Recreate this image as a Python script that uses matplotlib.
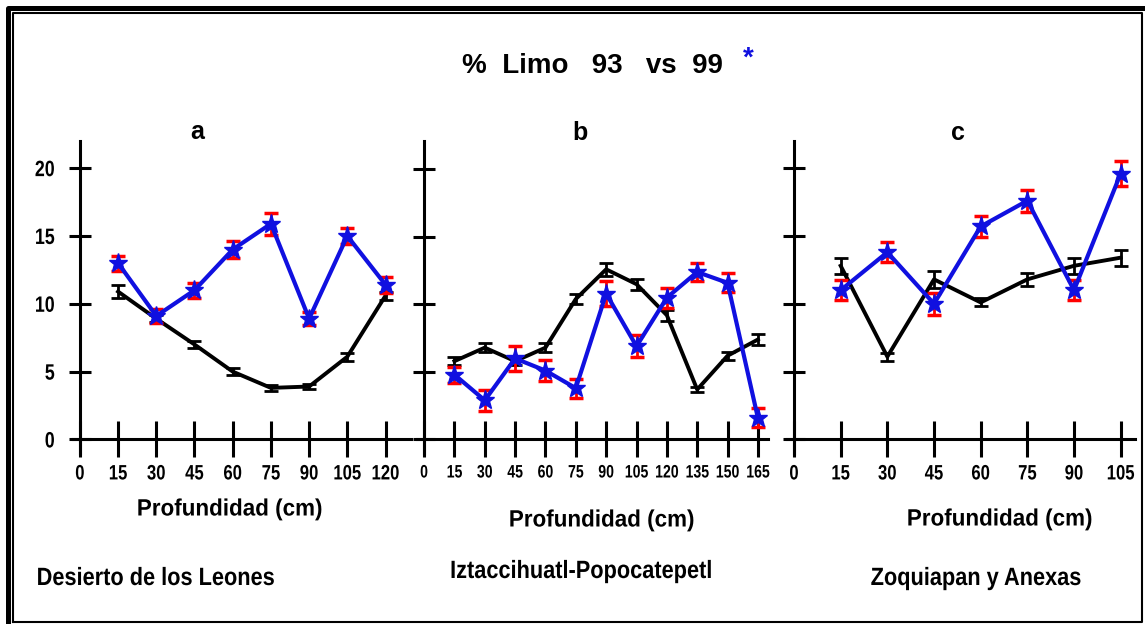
import matplotlib
matplotlib.use('Agg')
import matplotlib.pyplot as plt
from matplotlib.lines import Line2D
from matplotlib.patheffects import AbstractPathEffect
from matplotlib.transforms import Affine2D

plt.rcParams['font.family'] = ['Liberation Sans', 'DejaVu Sans']

# Panel a - Desierto de los Leones
depth_a = [15, 30, 45, 60, 75, 90, 105, 120]
limo93_a = [10.9, 8.9, 7.0, 5.0, 3.8, 3.9, 6.1, 10.6]
err93_a = [0.5, 0.25, 0.25, 0.25, 0.2, 0.2, 0.3, 0.3]
limo99_a = [13.0, 9.1, 11.0, 14.0, 15.9, 8.9, 15.0, 11.4]
err99_a = [0.55, 0.5, 0.55, 0.6, 0.8, 0.5, 0.6, 0.6]
xticks_a = [0, 15, 30, 45, 60, 75, 90, 105, 120]

# Panel b - Iztaccihuatl-Popocatepetl
depth_b = [15, 30, 45, 60, 75, 90, 105, 120, 135, 150, 165]
limo93_b = [5.8, 6.8, 5.8, 6.8, 10.4, 12.6, 11.5, 9.2, 3.7, 6.2, 7.4]
err93_b = [0.3, 0.35, 0.3, 0.35, 0.4, 0.5, 0.4, 0.4, 0.2, 0.3, 0.4]
limo99_b = [4.8, 2.9, 6.0, 5.1, 3.8, 10.8, 6.9, 10.5, 12.4, 11.6, 1.6]
err99_b = [0.6, 0.8, 0.9, 0.75, 0.7, 0.9, 0.8, 0.75, 0.7, 0.7, 0.7]
xticks_b = [0, 15, 30, 45, 60, 75, 90, 105, 120, 135, 150, 165]

# Panel c - Zoquiapan y Anexas
depth_c = [15, 30, 45, 60, 75, 90, 105]
limo93_c = [12.8, 6.1, 11.8, 10.1, 11.8, 12.8, 13.4]
err93_c = [0.6, 0.3, 0.6, 0.3, 0.5, 0.6, 0.6]
limo99_c = [11.0, 13.8, 10.0, 15.7, 17.6, 11.0, 19.6]
err99_c = [0.75, 0.75, 0.8, 0.8, 0.8, 0.75, 0.9]
xticks_c = [0, 15, 30, 45, 60, 75, 90, 105]

yticks = [0, 5, 10, 15, 20]

W, H = 1145, 624
BLUE = '#1010e0'


class Narrow(AbstractPathEffect):
    """squeeze text horizontally (no condensed font installed)"""

    def __init__(self, sx, anchor='center'):
        super().__init__()
        self.sx = sx
        self.anchor = anchor

    def draw_path(self, renderer, gc, tpath, affine, rgbFace=None):
        ext = tpath.get_extents(affine)
        if self.anchor == 'right':
            cx = ext.x1
        else:
            cx = (ext.x0 + ext.x1) / 2
        squeeze = Affine2D().translate(-cx, 0).scale(self.sx, 1).translate(cx, 0)
        renderer.draw_path(gc, tpath, affine + squeeze, rgbFace)


fig = plt.figure(figsize=(W / 100, H / 100), dpi=100)


def px(x, y):
    return x / W, 1 - y / H


def make_panel(rect, xlim, ylim, depth, y93, e93, y99, e99, xt, tick_fs, tick_sx,
               show_ylabels):
    ax = fig.add_axes(rect)
    ax.set_xlim(*xlim)
    ax.set_ylim(*ylim)
    for s in ['top', 'right']:
        ax.spines[s].set_visible(False)
    ax.spines['left'].set_position(('data', 0))
    ax.spines['bottom'].set_position(('data', 0))
    for s in ['left', 'bottom']:
        ax.spines[s].set_linewidth(2.2)
    ax.set_xticks(xt)
    ax.set_xticklabels([str(v) for v in xt], fontsize=tick_fs, fontweight='bold',
                       path_effects=[Narrow(tick_sx)])
    ax.set_yticks(yticks)
    ax.tick_params(direction='inout', length=26, width=2.2, pad=5)
    ax.tick_params(axis='y', length=16, pad=10)
    if show_ylabels:
        ax.set_yticklabels([str(v) for v in yticks], fontsize=16, fontweight='bold',
                           path_effects=[Narrow(0.8, 'right')])
    else:
        ax.set_yticklabels([])
    ax.errorbar(depth, y93, yerr=e93, color='black', lw=2.8, elinewidth=2,
                capsize=5, capthick=2, zorder=3)
    ax.errorbar(depth, y99, yerr=e99, color=BLUE, lw=3, ecolor='red',
                elinewidth=2, capsize=5, capthick=2.5, marker='*', ms=14,
                mfc=BLUE, mec=BLUE, zorder=4)
    ax.patch.set_alpha(0)
    return ax


# pixel layout of the three panels
make_panel([73 / W, 171 / H, 338 / W, 312 / H], (-2.7, 130), (-1, 22),
           depth_a, limo93_a, err93_a, limo99_a, err99_a, xticks_a, 15, 0.8, True)
make_panel([417 / W, 171 / H, 351 / W, 312 / H], (-3.5, 170), (-1, 22.1),
           depth_b, limo93_b, err93_b, limo99_b, err99_b, xticks_b, 13, 0.78, False)
make_panel([787 / W, 171 / H, 348 / W, 312 / H], (-2.25, 109.6), (-1, 22),
           depth_c, limo93_c, err93_c, limo99_c, err99_c, xticks_c, 15, 0.8, False)

# titles and labels
fig.text(*px(462, 66), '%  Limo   93   vs  99', fontsize=20, fontweight='bold',
         ha='left', va='center')
fig.text(*px(748, 59), '*', fontsize=20, fontweight='bold', color=BLUE,
         ha='center', va='center')
for x, y, t in [(197, 132, 'a'), (580, 133, 'b'), (958, 133, 'c')]:
    fig.text(*px(x, y), t, fontsize=18, fontweight='bold', ha='center', va='center')
for x, y in [(230, 509), (602, 520), (1000, 519)]:
    fig.text(*px(x, y), 'Profundidad (cm)', fontsize=17, fontweight='bold',
             ha='center', va='center', path_effects=[Narrow(0.95)])
for x, y, t in [(156, 578, 'Desierto de los Leones'),
                (581, 571, 'Iztaccihuatl-Popocatepetl'),
                (976, 578, 'Zoquiapan y Anexas')]:
    fig.text(*px(x, y), t, fontsize=18, fontweight='bold', ha='center',
             va='center', path_effects=[Narrow(0.87)])

# double frame round the picture
fig.add_artist(Line2D([8 / W, 8 / W, 1], [0, 1 - 8 / H, 1 - 8 / H], color='black',
                      lw=3.6, transform=fig.transFigure))
fig.add_artist(Line2D([13 / W, 13 / W, 1142 / W, 1142 / W, 13 / W],
                      [1 - 622 / H, 1 - 13 / H, 1 - 13 / H, 1 - 622 / H, 1 - 622 / H],
                      color='black', lw=1.5, transform=fig.transFigure))

fig.savefig('out.png', dpi=100)
